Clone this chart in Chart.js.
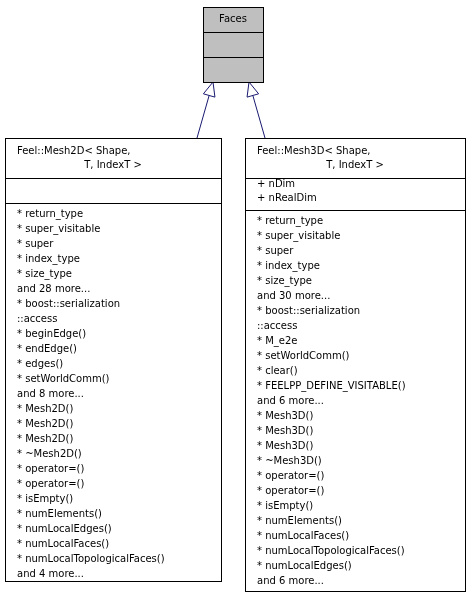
<!DOCTYPE html>
<html>
<head>
<meta charset="utf-8">
<script src="https://cdn.jsdelivr.net/npm/chart.js@4"></script>
<style>
  html, body { margin: 0; padding: 0; background: #fff; }
  #wrap { width: 469px; height: 595px; }
</style>
</head>
<body>
<div id="wrap"><canvas id="myChart"></canvas></div>
<script>
// class names, one title per box
var classTitles = [
    ["Faces"],
    ["Feel::Mesh2D< Shape,", "T, IndexT >"],
    ["Feel::Mesh3D< Shape,", "T, IndexT >"]
];

var classAttributes = [
    [],
    [],
    ["+ nDim", "+ nRealDim"]
];

var classMethods = [
    [],
    ["* return_type", "* super_visitable", "* super", "* index_type", "* size_type",
     "and 28 more...", "* boost::serialization", "::access", "* beginEdge()", "* endEdge()",
     "* edges()", "* setWorldComm()", "and 8 more...", "* Mesh2D()", "* Mesh2D()", "* Mesh2D()",
     "* ~Mesh2D()", "* operator=()", "* operator=()", "* isEmpty()", "* numElements()",
     "* numLocalEdges()", "* numLocalFaces()", "* numLocalTopologicalFaces()", "and 4 more..."],
    ["* return_type", "* super_visitable", "* super", "* index_type", "* size_type",
     "and 30 more...", "* boost::serialization", "::access", "* M_e2e", "* setWorldComm()",
     "* clear()", "* FEELPP_DEFINE_VISITABLE()", "and 6 more...", "* Mesh3D()", "* Mesh3D()",
     "* Mesh3D()", "* ~Mesh3D()", "* operator=()", "* operator=()", "* isEmpty()",
     "* numElements()", "* numLocalFaces()", "* numLocalTopologicalFaces()", "* numLocalEdges()",
     "and 6 more..."]
];

// inheritance: child index -> parent index
var inheritance = [[1, 0], [2, 0]];

// box layout in diagram units (x, top, width, section heights)
var boxes = [
    { x: 203, y: 7, w: 60, h: [25, 25, 25], fill: "#bfbfbf" },
    { x: 5, y: 138, w: 216, h: [40, 25, 378], fill: "#ffffff" },
    { x: 245, y: 138, w: 220, h: [40, 32, 381], fill: "#ffffff" }
];
var arrowEnds = [
    { from: [197, 138], to: [213, 82] },
    { from: [265, 138], to: [249, 82] }
];

var titleH = 14, attrH = 14.5, methodH = 15;

var umlPlugin = {
    id: "uml",
    afterDatasetsDraw: function (chart) {
        var ctx = chart.ctx;
        var sx = chart.scales.x, sy = chart.scales.y;
        function px(v) { return sx.getPixelForValue(v); }
        function py(v) { return sy.getPixelForValue(v); }
        ctx.save();
        ctx.font = "10px 'DejaVu Sans'";
        ctx.textBaseline = "middle";

        // arrows
        inheritance.forEach(function (pair, i) {
            var a = arrowEnds[i];
            var x1 = px(a.from[0]), y1 = py(a.from[1]);
            var x2 = px(a.to[0]), y2 = py(a.to[1]);
            var ang = Math.atan2(y2 - y1, x2 - x1);
            var len = 14, hw = 6;
            var bx = x2 - len * Math.cos(ang), by = y2 - len * Math.sin(ang);
            ctx.strokeStyle = "#191970";
            ctx.lineWidth = 1;
            ctx.beginPath();
            ctx.moveTo(x1, y1);
            ctx.lineTo(bx, by);
            ctx.stroke();
            ctx.beginPath();
            ctx.moveTo(x2, y2);
            ctx.lineTo(bx + hw * Math.sin(ang), by - hw * Math.cos(ang));
            ctx.lineTo(bx - hw * Math.sin(ang), by + hw * Math.cos(ang));
            ctx.closePath();
            ctx.fillStyle = "#fff";
            ctx.fill();
            ctx.stroke();
        });

        // boxes
        boxes.forEach(function (b, i) {
            var total = b.h[0] + b.h[1] + b.h[2];
            var left = px(b.x), top = py(b.y), w = px(b.x + b.w) - left;
            ctx.fillStyle = b.fill;
            ctx.fillRect(left, top, w, py(b.y + total) - top);
            ctx.strokeStyle = "#000";
            ctx.lineWidth = 1;
            ctx.strokeRect(left + 0.5, top + 0.5, w, py(b.y + total) - top);
            var y0 = b.y;
            // title: first line left aligned when wrapped, rest centred
            ctx.fillStyle = "#000";
            var t = classTitles[i];
            var tStart = y0 + b.h[0] / 2 - (t.length - 1) * titleH / 2;
            t.forEach(function (s, k) {
                if (t.length > 1 && k === 0) {
                    ctx.textAlign = "left";
                    ctx.fillText(s, left + 12, py(tStart));
                } else {
                    ctx.textAlign = "center";
                    ctx.fillText(s, left + w / 2, py(tStart + k * titleH));
                }
            });
            y0 += b.h[0];
            ctx.beginPath();
            ctx.moveTo(left, Math.round(py(y0)) + 0.5); ctx.lineTo(left + w, Math.round(py(y0)) + 0.5);
            ctx.stroke();
            ctx.textAlign = "left";
            classAttributes[i].forEach(function (s, k) {
                ctx.fillText(s, left + 12, py(y0 + 6 + k * attrH));
            });
            y0 += b.h[1];
            ctx.beginPath();
            ctx.moveTo(left, Math.round(py(y0)) + 0.5); ctx.lineTo(left + w, Math.round(py(y0)) + 0.5);
            ctx.stroke();
            classMethods[i].forEach(function (s, k) {
                ctx.fillText(s, left + 12, py(y0 + 11 + k * methodH));
            });
        });
        ctx.restore();
    }
};

new Chart("myChart", {
    type: "scatter",
    data: {
        datasets: [{
            data: boxes.map(function (b) { return { x: b.x, y: b.y }; }),
            pointRadius: 0
        }]
    },
    options: {
        animation: false,
        responsive: true,
        maintainAspectRatio: false,
        layout: { padding: 0 },
        scales: {
            x: { type: "linear", min: 0, max: 469, display: false },
            y: { type: "linear", min: 0, max: 595, reverse: true, display: false }
        },
        plugins: {
            legend: { display: false },
            tooltip: { enabled: false }
        }
    },
    plugins: [umlPlugin]
});
</script>
</body>
</html>
